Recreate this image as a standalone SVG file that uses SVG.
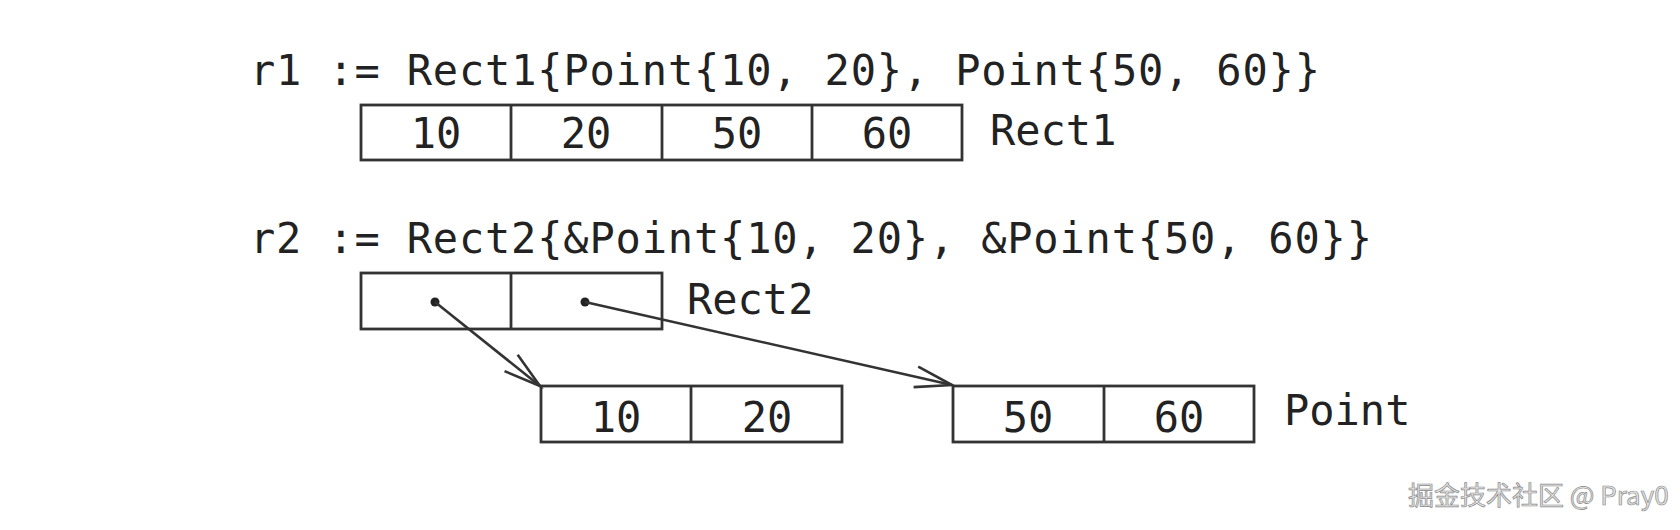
<svg xmlns="http://www.w3.org/2000/svg" width="1680" height="530" viewBox="0 0 1680 530">
<style>
.code{font-family:"DejaVu Sans Mono","Liberation Mono",monospace;font-size:42px;fill:#222}
.num{font-family:"DejaVu Sans Mono","Liberation Mono",monospace;font-size:42px;fill:#222;text-anchor:middle}
.box{fill:#fff;stroke:#333;stroke-width:2.8}
.div{stroke:#333;stroke-width:2.8}
.conn{stroke:#333;stroke-width:2.6;fill:none}
.wm{font-family:"Noto Sans CJK SC","Liberation Sans",sans-serif;font-size:26px;fill:#e4e4e4;stroke:#8a8a8a;stroke-width:0.7}
</style>
<defs>
<marker id="open" markerUnits="userSpaceOnUse" markerWidth="50" markerHeight="30" viewBox="-40 -15 50 30" refX="0" refY="0" orient="auto">
<path d="M-37,-10.5 L0,0 L-37,10.5" fill="none" stroke="#333" stroke-width="2.6"/>
</marker>
</defs>
<rect width="1680" height="530" fill="#fff"/>
<text class="code" x="250" y="85" textLength="1070" lengthAdjust="spacing">r1 := Rect1{Point{10, 20}, Point{50, 60}}</text>
<text class="code" x="250" y="253" textLength="1122" lengthAdjust="spacing">r2 := Rect2{&amp;Point{10, 20}, &amp;Point{50, 60}}</text>
<g id="rect1">
<rect class="box" x="361" y="105" width="601" height="55"/>
<line class="div" x1="511" y1="105" x2="511" y2="160"/>
<line class="div" x1="662" y1="105" x2="662" y2="160"/>
<line class="div" x1="812" y1="105" x2="812" y2="160"/>
<text class="num" x="436" y="148">10</text>
<text class="num" x="586" y="148">20</text>
<text class="num" x="737" y="148">50</text>
<text class="num" x="887" y="148">60</text>
<text class="code" x="990" y="145">Rect1</text>
</g>
<g id="rect2">
<rect class="box" x="361" y="273" width="301" height="56"/>
<line class="div" x1="511" y1="273" x2="511" y2="329"/>
<circle cx="435" cy="302" r="4.5" fill="#222"/>
<circle cx="585" cy="302" r="4.5" fill="#222"/>
<text class="code" x="687" y="314">Rect2</text>
</g>
<g id="point1">
<rect class="box" x="541" y="386" width="301" height="56"/>
<line class="div" x1="691" y1="386" x2="691" y2="442"/>
<text class="num" x="616" y="432">10</text>
<text class="num" x="767" y="432">20</text>
</g>
<g id="point2">
<rect class="box" x="953" y="386" width="301" height="56"/>
<line class="div" x1="1104" y1="386" x2="1104" y2="442"/>
<text class="num" x="1028" y="432">50</text>
<text class="num" x="1179" y="432">60</text>
<text class="code" x="1284" y="425">Point</text>
</g>
<g id="connectors">
<line class="conn" x1="435" y1="302" x2="540" y2="386" marker-end="url(#open)"/>
<line class="conn" x1="585" y1="302" x2="952" y2="385" marker-end="url(#open)"/>
</g>
<text class="wm" x="1408" y="505">掘金技术社区 @ Pray0</text>
</svg>
